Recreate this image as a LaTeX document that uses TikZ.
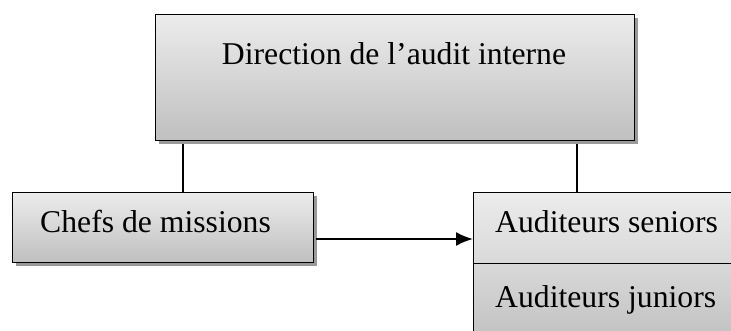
\documentclass[tikz,border=0pt]{standalone}
\usepackage{fontspec}
\setmainfont{Liberation Serif}
\usetikzlibrary{arrows.meta,shadows,positioning}

\tikzset{
  orgbox/.style={draw, line width=1.3pt, rectangle, anchor=north west, inner sep=0pt,
    top color=gray!15, bottom color=gray!50,
    drop shadow={shadow xshift=3pt, shadow yshift=-3pt, fill=gray!80, opacity=1}},
  orgtext/.style={anchor=base, inner sep=0pt, font=\fontsize{31.7}{38}\selectfont},
  orglink/.style={line width=1.5pt}
}

\begin{document}
\begin{tikzpicture}[x=1pt, y=-1pt]
\useasboundingbox (0,0) rectangle (731,331);
\clip (0,0) rectangle (731,331);

% boxes
\node [orgbox, minimum width=479pt, minimum height=126pt] (direction) at (155,14) {};
\node [orgbox, minimum width=301pt, minimum height=70pt] (chefs) at (12,192) {};
\node [orgbox, minimum width=270pt, minimum height=71pt, top color=gray!15, bottom color=gray!30] (seniors) at (473,192) {};
\node [orgbox, minimum width=270pt, minimum height=82pt, top color=gray!30, bottom color=gray!50] (juniors) at (473,263) {};

% texts
\node [orgtext] (tdirection) at (394,65) {Direction de l'audit interne};
\node [orgtext, anchor=base west] (tchefs) at (40,233) {Chefs de missions};
\node [orgtext, anchor=base west] (tseniors) at (495,233) {Auditeurs seniors};
\node [orgtext, anchor=base west] (tjuniors) at (495,307) {Auditeurs juniors};

% links
\coordinate (arrowy) at (0,239);
\draw [orglink] ([yshift=-3pt]direction.south -| 183,0) -- (chefs.north -| 183,0);
\draw [orglink] ([yshift=-3pt]direction.south -| 577,0) -- (seniors.north -| 577,0);
\draw [line width=2pt, -{Latex[length=17pt, width=14pt]}] ([xshift=2pt]chefs.east |- arrowy) -- (seniors.west |- arrowy);
\end{tikzpicture}
\end{document}
